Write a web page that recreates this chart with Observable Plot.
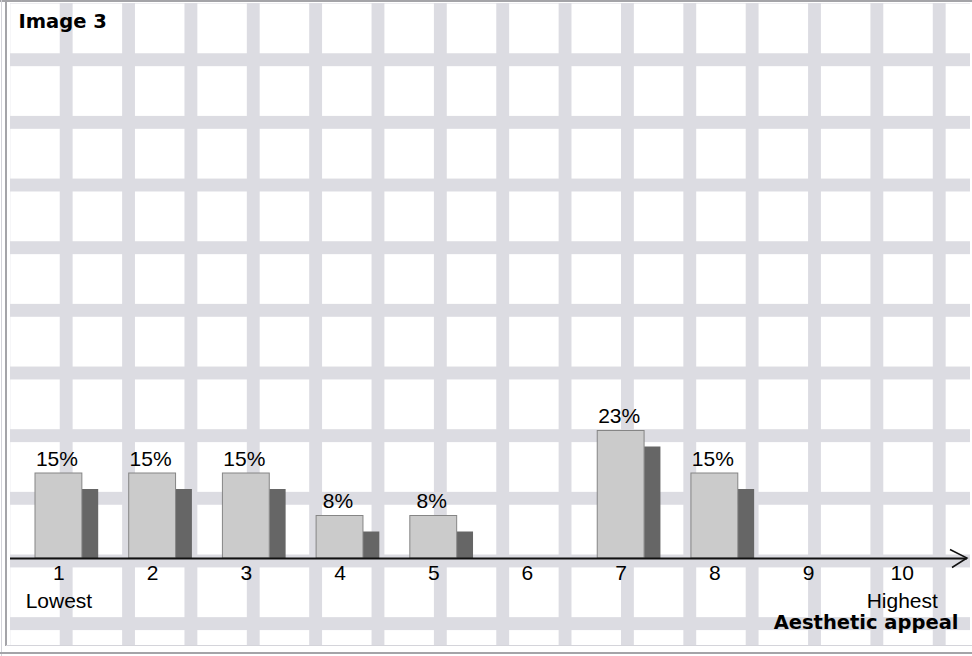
<!DOCTYPE html>
<html>
<head>
<meta charset="utf-8">
<script src="https://cdn.jsdelivr.net/npm/d3@7"></script>
<script src="https://cdn.jsdelivr.net/npm/@observablehq/plot@0.6"></script>
<style>
  html, body { margin: 0; padding: 0; background: #ffffff; }
  #wrap { position: relative; width: 972px; height: 656px; overflow: hidden; }
  .edge { position: absolute; }
  #paper {
    position: absolute; left: 10px; top: 3px; width: 960px; height: 642px;
    background-image:
      linear-gradient(to right, #dcdce2 12.5px, transparent 12.5px),
      linear-gradient(to bottom, #dcdce2 12.5px, transparent 12.5px);
    background-size: 62.36px 100%, 100% 62.67px;
    background-position: 49.75px 0, 0 50.25px;
  }
  #chart { position: absolute; left: 0; top: 0; }
</style>
</head>
<body>
<div id="wrap">
  <div class="edge" style="left:0;top:0;width:972px;height:2px;background:#a4a4a8"></div>
  <div class="edge" style="left:1px;top:0;width:1px;height:656px;background:#d4d4da"></div>
  <div class="edge" style="left:5px;top:0;width:2px;height:646px;background:#a4a4a8"></div>
  <div class="edge" style="left:6px;top:645px;width:966px;height:1px;background:#d4d4da"></div>
  <div class="edge" style="left:0;top:652px;width:972px;height:2px;background:#a4a4a8"></div>
  <div id="paper"></div>
  <div id="chart"></div>
</div>
<script>
// Rating scale and number of respondents who chose each rating
const ratings = [1, 2, 3, 4, 5, 6, 7, 8, 9, 10];
const respondents = [2, 2, 2, 1, 1, 0, 3, 2, 0, 0];
const scaleEnds = [
  {rating: 1, note: "Lowest"},
  {rating: 10, note: "Highest"}
];
const chartTitle = "Image 3";
const axisTitle = "Aesthetic appeal";

const total = d3.sum(respondents);
const rows = ratings.map((r, i) => ({rating: r, share: respondents[i] / total * 100}));

const W = 972, H = 656;
const mL = 10, mR = 5, mT = 60.75, mB = 98;
const regular = "'Liberation Sans', Arial, sans-serif";
const bold = "'DejaVu Sans', sans-serif";

const plot = Plot.plot({
  width: W,
  height: H,
  marginLeft: mL,
  marginRight: mR,
  marginTop: mT,
  marginBottom: mB,
  style: {background: "transparent", fontFamily: regular, fontSize: "21px", color: "#000"},
  x: {type: "band", domain: ratings, range: [35, 925.2], paddingInner: 0.5, paddingOuter: 0, round: false, axis: null},
  y: {domain: [0, 90], axis: null},
  marks: [
    // dark depth face to the right of each bar, sunk below the baseline
    Plot.barY(rows.filter(d => d.share > 0), {
      x: d => d.rating, y: d => d.share,
      dx: 46.85, dy: 16, insetRight: 30.5,
      fill: "#666666", clip: "frame"
    }),
    // front face
    Plot.barY(rows.filter(d => d.share > 0), {
      x: d => d.rating, y: d => d.share,
      fill: "#cbcbcb", stroke: "#858585", strokeWidth: 1
    }),
    // percentage labels
    Plot.text(rows.filter(d => d.share > 0), {
      x: d => d.rating, y: d => d.share,
      text: d => `${Math.round(d.share)}%`,
      dy: -8, dx: -2, lineAnchor: "bottom",
      fontSize: 21, fontFamily: regular, fill: "#000"
    }),
    // baseline axis
    Plot.ruleY([0], {stroke: "#111", strokeWidth: 2}),
    Plot.axisX({tickSize: 0, tickPadding: 7, label: null, fontSize: 21, fontFamily: regular, fill: "#000"}),
    Plot.text(scaleEnds, {
      x: d => d.rating, text: d => d.note,
      frameAnchor: "bottom", dy: 49, lineAnchor: "bottom",
      fontSize: 21, fontFamily: regular, fill: "#000"
    }),
    Plot.text([axisTitle], {
      text: d => d,
      frameAnchor: "bottom-right", textAnchor: "end", dx: -9, dy: 70, lineAnchor: "bottom",
      fontSize: 19.5, fontFamily: bold, fontWeight: "bold", fill: "#000"
    }),
    Plot.text([chartTitle], {
      text: d => d,
      frameAnchor: "top-left", textAnchor: "start", dx: 8, dy: 27 - mT, lineAnchor: "bottom",
      fontSize: 19.5, fontFamily: bold, fontWeight: "bold", fill: "#000"
    })
  ]
});

// open arrowhead at the end of the baseline
const y0 = plot.scale("y").apply(0);
const tip = W - mR;
d3.select(plot).append("path")
  .attr("d", `M${tip - 17},${y0 - 8.5}L${tip},${y0}L${tip - 15},${y0 + 9.5}`)
  .attr("fill", "none")
  .attr("stroke", "#111")
  .attr("stroke-width", 1.5);

document.getElementById("chart").append(plot);
</script>
</body>
</html>
